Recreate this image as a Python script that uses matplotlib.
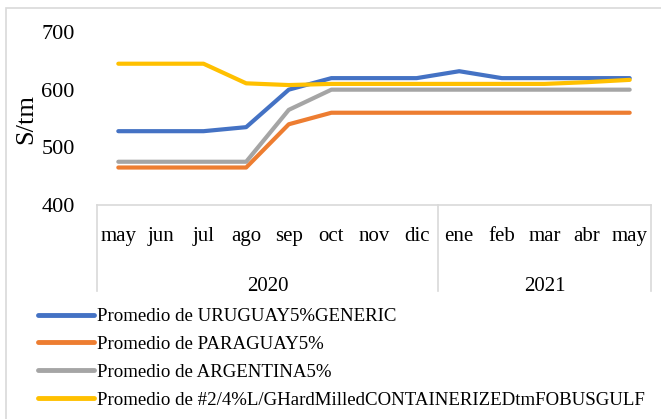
import matplotlib
matplotlib.use("Agg")
import matplotlib.pyplot as plt
from matplotlib.lines import Line2D
from matplotlib.patches import Rectangle
from matplotlib.transforms import blended_transform_factory

plt.rcParams['font.family'] = ['Liberation Serif', 'DejaVu Serif']

months = ['may', 'jun', 'jul', 'ago', 'sep', 'oct', 'nov', 'dic',
          'ene', 'feb', 'mar', 'abr', 'may']
years = ['2020', '2021']
year_counts = [8, 5]

uruguay = [528, 528, 528, 535, 600, 620, 620, 620, 632, 620, 620, 620, 620]
paraguay = [465, 465, 465, 465, 540, 560, 560, 560, 560, 560, 560, 560, 560]
argentina = [475, 475, 475, 475, 565, 600, 600, 600, 600, 600, 600, 600, 600]
usgulf = [645, 645, 645, 611, 608, 610, 610, 610, 610, 610, 610, 613, 617]

labels = ['Promedio de URUGUAY5%GENERIC',
          'Promedio de PARAGUAY5%',
          'Promedio de ARGENTINA5%',
          'Promedio de #2/4%L/GHardMilledCONTAINERIZEDtmFOBUSGULF']
colors = ['#4472C4', '#ED7D31', '#A5A5A5', '#FFC000']

W, H = 661, 419
fig = plt.figure(figsize=(W / 100, H / 100), dpi=100)


def fx(px):
    return px / W


def fy(py):
    return 1 - py / H


# outer chart border
fig.add_artist(Rectangle((fx(6), fy(430)), fx(680) - fx(6), fy(8) - fy(430),
                         transform=fig.transFigure, fill=False,
                         edgecolor='#D9D9D9', linewidth=1.2))

ax = fig.add_axes([fx(97), fy(205), fx(651) - fx(97), fy(32) - fy(205)])
x = list(range(len(months)))
for ys, c, lab in zip([uruguay, paraguay, argentina, usgulf], colors, labels):
    ax.plot(x, ys, color=c, linewidth=3, solid_capstyle='round', label=lab)

ax.set_xlim(-0.5, len(months) - 0.5)
ax.set_ylim(400, 700)
ax.set_yticks([400, 500, 600, 700])
ax.tick_params(axis='y', length=0, labelsize=16, pad=16)
ax.set_xticks([])
for s in ax.spines.values():
    s.set_visible(False)
ax.set_ylabel('S/tm', fontsize=19, labelpad=0)
ax.yaxis.set_label_coords(-0.108, 0.5)

# category axis box
gray = '#D9D9D9'
fig.add_artist(Line2D([fx(97), fx(651)], [fy(205), fy(205)],
                      transform=fig.transFigure, color=gray, linewidth=1.2))
bt = blended_transform_factory(ax.transData, fig.transFigure)
edges = [-0.5]
for n in year_counts:
    edges.append(edges[-1] + n)
for e in edges:
    ax.add_artist(Line2D([e, e], [fy(205), fy(291)], transform=bt,
                         color=gray, linewidth=1.2, clip_on=False))
for i, m in enumerate(months):
    ax.text(i, fy(241), m, transform=bt, ha='center', va='baseline',
            fontsize=15, clip_on=False)
for j, yr in enumerate(years):
    ax.text((edges[j] + edges[j + 1]) / 2, fy(291), yr, transform=bt,
            ha='center', va='baseline', fontsize=15, clip_on=False)

leg = ax.legend(loc='upper left', bbox_to_anchor=(fx(38), fy(308)),
                bbox_transform=fig.transFigure, frameon=False, fontsize=13.6,
                handlelength=2.95, handletextpad=0.15, labelspacing=0.56,
                borderpad=0, borderaxespad=0)
for ln in leg.get_lines():
    ln.set_linewidth(3.5)
    ln.set_solid_capstyle('round')

fig.savefig('out.png', dpi=100)
